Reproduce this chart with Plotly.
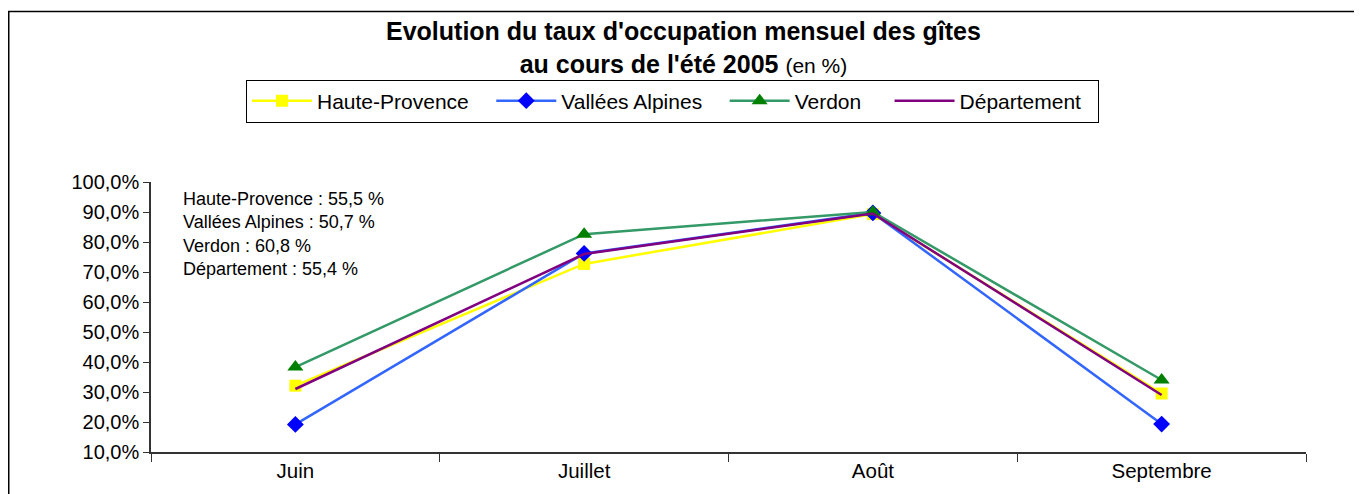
import plotly.graph_objects as go

months = ["Juin", "Juillet", "Août", "Septembre"]
haute_provence = [32.1, 72.7, 89.3, 29.5]
vallees_alpines = [19.2, 76.2, 89.7, 19.3]
verdon = [38.3, 82.6, 90.0, 34.0]
departement = [31.0, 76.0, 89.5, 29.0]
y_ticks = [10, 20, 30, 40, 50, 60, 70, 80, 90, 100]
summary = ["Haute-Provence : 55,5 %", "Vallées Alpines : 50,7 %",
           "Verdon : 60,8 %", "Département : 55,4 %"]

FONT = "Arial, Liberation Sans, sans-serif"
NB = "\u00a0"

W, H = 1354, 486
L, R, T, B = 143, 56, 174, 38
PW, PH = W - L - R, H - T - B


def px_x(x):
    return (x - L) / PW


def px_y(y):
    return (H - B - y) / PH


fig = go.Figure()
fig.add_trace(go.Scatter(x=months, y=haute_provence, name="Haute-Provence" + NB * 3,
                         mode="lines+markers",
                         line=dict(color="#FFFF00", width=2.5),
                         marker=dict(symbol="square", size=12, color="#FFFF00")))
fig.add_trace(go.Scatter(x=months, y=vallees_alpines, name="Vallées Alpines" + NB * 3,
                         mode="lines+markers",
                         line=dict(color="#3366FF", width=2.5),
                         marker=dict(symbol="diamond", size=13, color="#0000FF")))
fig.add_trace(go.Scatter(x=months, y=verdon, name="Verdon" + NB * 4,
                         mode="lines+markers",
                         line=dict(color="#339966", width=2.5),
                         marker=dict(symbol="triangle-up", size=14, color="#008000")))
fig.add_trace(go.Scatter(x=months, y=departement, name="Département" + NB * 2,
                         mode="lines",
                         line=dict(color="#800080", width=2.5)))

fig.update_layout(
    width=W, height=H,
    margin=dict(l=L, r=R, t=T, b=B),
    paper_bgcolor="white", plot_bgcolor="white",
    font=dict(family=FONT, size=18, color="black"),
    showlegend=True,
    legend=dict(
        orientation="h", x=px_x(238), xanchor="left", y=px_y(70), yanchor="top",
        bordercolor="black", borderwidth=1, bgcolor="white",
        itemwidth=60,
        font=dict(family=FONT, size=21),
    ),
    xaxis=dict(
        type="category", range=[-0.5, 3.5], tickson="boundaries",
        ticks="outside", ticklen=8, tickcolor="#333", showgrid=False,
        showline=True, linecolor="#333", linewidth=1.5,
        tickfont=dict(family=FONT, size=20.5), zeroline=False,
    ),
    yaxis=dict(
        range=[10, 100], tickvals=y_ticks,
        ticktext=[f"{v:.1f}".replace(".", ",") + "%" for v in y_ticks],
        ticks="outside", ticklen=6, tickcolor="#333", showgrid=False,
        showline=True, linecolor="#333", linewidth=1.5,
        tickfont=dict(family=FONT, size=20), zeroline=False,
    ),
)

# title
fig.add_annotation(
    text="<b>Evolution du taux d'occupation mensuel des gîtes<br>au cours de l'été 2005</b>"
         " <span style='font-size:21px'>(en %)</span>",
    xref="paper", yref="paper", x=px_x(675), y=px_y(38),
    xanchor="center", yanchor="middle", align="center", showarrow=False,
    font=dict(family=FONT, size=25, color="black"),
)

fig.add_annotation(
    text="<br>".join(summary), xref="paper", yref="paper",
    x=px_x(173), y=px_y(179), xanchor="left", yanchor="top", align="left",
    showarrow=False, font=dict(family=FONT, size=18, color="black"),
)

# outer frame of the chart
fig.add_shape(type="rect", xref="paper", yref="paper",
              x0=px_x(0.75), x1=px_x(1348),
              y0=px_y(520), y1=px_y(1),
              line=dict(color="black", width=1.5), layer="below")

fig.write_html("out.html")
